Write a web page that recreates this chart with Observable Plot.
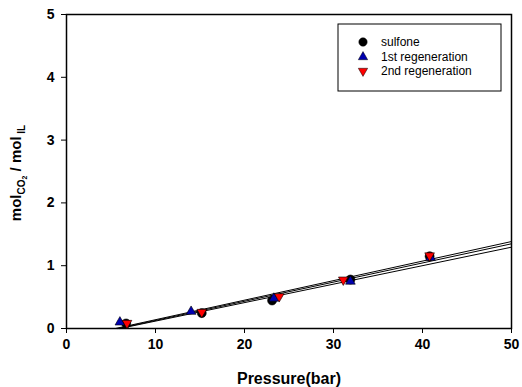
<!DOCTYPE html>
<html><head><meta charset="utf-8">
<script src="https://cdn.jsdelivr.net/npm/d3@7"></script>
<script src="https://cdn.jsdelivr.net/npm/@observablehq/plot@0.6"></script>
<style>body{margin:0;background:#fff}svg{display:block}</style>
</head><body><div id="chart"></div>
<script>
const seriesNames = ["sulfone", "1st regeneration", "2nd regeneration"];
const sulfoneP = [6.7, 15.2, 23.1, 31.9, 40.8];
const sulfoneY = [0.08, 0.245, 0.446, 0.78, 1.15];
const regen1P = [6.0, 14.0, 23.3, 31.9, 40.9];
const regen1Y = [0.10, 0.27, 0.48, 0.75, 1.13];
const regen2P = [6.8, 15.2, 23.9, 31.1, 40.8];
const regen2Y = [0.085, 0.26, 0.51, 0.775, 1.16];
// linear fits: slope, intercept
const fitSlope = [0.02943, 0.03052, 0.03112];
const fitIntercept = [-0.1766, -0.177, -0.1712];
const xTicks = [0, 10, 20, 30, 40, 50];
const yTicks = [0, 1, 2, 3, 4, 5];

const pts = (P, Y, s) => P.map((p, i) => ({p, y: Y[i], s}));
const sulf = pts(sulfoneP, sulfoneY, seriesNames[0]);
const r1 = pts(regen1P, regen1Y, seriesNames[1]);
const r2 = pts(regen2P, regen2Y, seriesNames[2]);
const fitLines = fitSlope.flatMap((m, i) => {
  const x0 = -fitIntercept[i] / m;
  return [{p: x0, y: 0, k: i}, {p: 50, y: m * 50 + fitIntercept[i], k: i}];
});
const FONT = "Arial, 'Liberation Sans', sans-serif";

const chart = Plot.plot({
  width: 522, height: 387,
  marginLeft: 66, marginRight: 11, marginTop: 14, marginBottom: 59,
  style: {fontFamily: FONT, background: "#fff"},
  x: {domain: [0, 50]},
  y: {domain: [0, 5]},
  marks: [
    Plot.frame({stroke: "#000", strokeWidth: 1.5}),
    Plot.axisX({ticks: xTicks, tickFormat: d3.format("d"), tickSize: 5, tickPadding: 6, fontSize: 14, fontWeight: "bold", label: null, strokeWidth: 1}),
    Plot.axisY({ticks: yTicks, tickFormat: d3.format("d"), tickSize: 5, tickPadding: 7, fontSize: 14, fontWeight: "bold", label: null, strokeWidth: 1}),
    Plot.line(fitLines, {x: "p", y: "y", z: "k", stroke: "#000", strokeWidth: 1}),
    Plot.dot(sulf, {x: "p", y: "y", r: 4.5, fill: "#000", stroke: "#000", strokeWidth: 0.6}),
    Plot.dot(r1, {x: "p", y: "y", symbol: "triangle", r: 3.6, fill: "#0000b0", stroke: "#000", strokeWidth: 0.6}),
    Plot.dot(r2, {x: "p", y: "y", symbol: "triangle", rotate: 180, r: 3.6, fill: "#ff0000", stroke: "#000", strokeWidth: 0.6})
  ]
});

const svg = d3.select(chart);
// x label
svg.append("text").attr("x", 289).attr("y", 384).attr("text-anchor", "middle")
  .attr("font-family", FONT).attr("font-weight", "bold").attr("font-size", 16)
  .text("Pressure(bar)");
// y label with subscripts
const yl = svg.append("text").attr("transform", "translate(21,173) rotate(-90)").attr("text-anchor", "middle")
  .attr("font-family", FONT).attr("font-weight", "bold").attr("font-size", 15);
yl.append("tspan").text("mol");
yl.append("tspan").attr("font-size", 10).attr("dy", 4).text("CO");
yl.append("tspan").attr("font-size", 7).attr("dy", 2).text("2");
yl.append("tspan").attr("dy", -6).text(" / mol");
yl.append("tspan").attr("font-size", 10).attr("dy", 4).text(" IL");

// legend
const lg = svg.append("g").attr("text-anchor", "start");
lg.append("rect").attr("x", 338).attr("y", 24).attr("width", 163).attr("height", 67)
  .attr("fill", "#fff").attr("stroke", "#000").attr("stroke-width", 1);
const rows = [42, 57, 71];
const sym = [d3.symbolCircle, d3.symbolTriangle, d3.symbolTriangle];
const fills = ["#000", "#0000b0", "#ff0000"];
seriesNames.forEach((name, i) => {
  lg.append("path").attr("d", d3.symbol(sym[i], i === 0 ? 55 : 38)())
    .attr("transform", `translate(363,${rows[i]})${i === 2 ? " rotate(180)" : ""}`)
    .attr("fill", fills[i]).attr("stroke", "#000").attr("stroke-width", 0.5);
  lg.append("text").attr("x", 381).attr("y", rows[i]).attr("dy", "0.35em")
    .attr("font-family", FONT).attr("font-size", 12).attr("text-anchor", "start").text(name);
});

document.getElementById("chart").appendChild(chart);
</script>
</body></html>
